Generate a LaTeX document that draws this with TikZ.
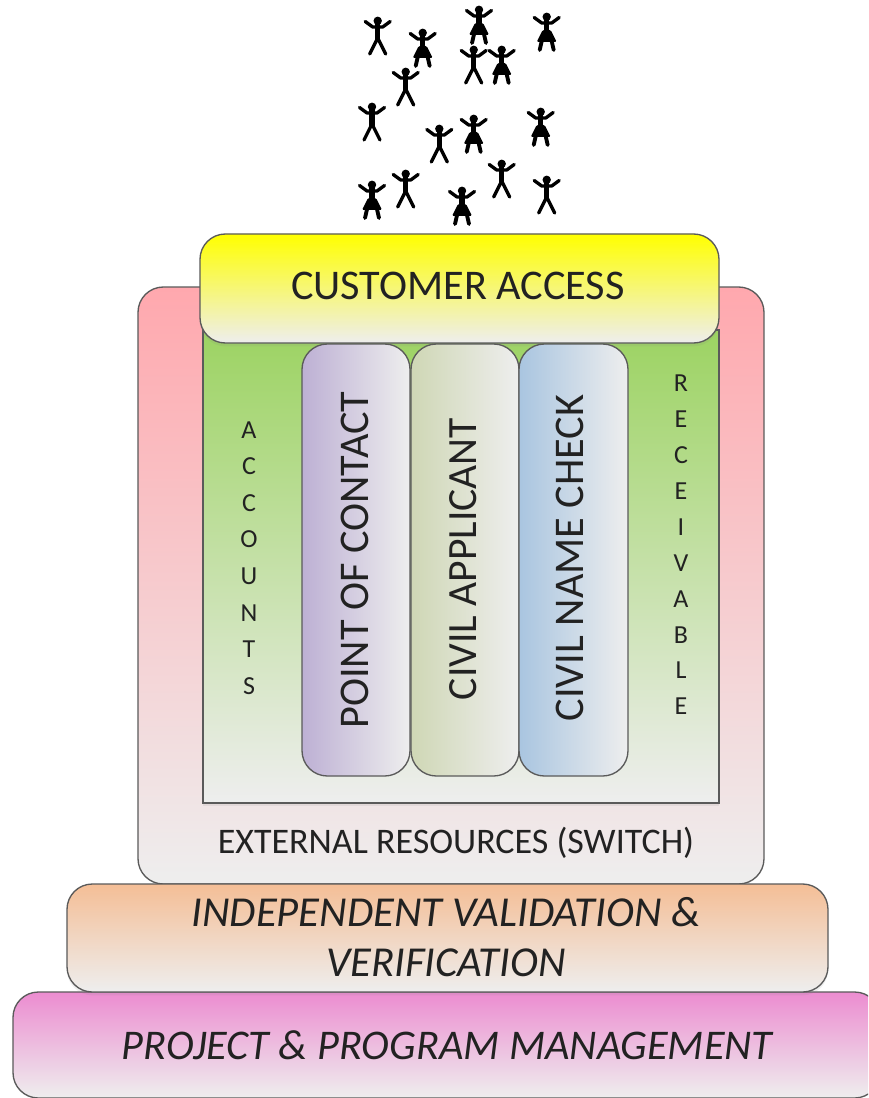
\documentclass[tikz,border=0pt]{standalone}
\usepackage{fontspec}
\usetikzlibrary{shadows}
\setmainfont{Carlito}
\definecolor{edgegray}{HTML}{5A5A5A}
\definecolor{inkc}{HTML}{222222}
\definecolor{endgray}{HTML}{EEEEEE}
\definecolor{pinkc}{HTML}{FFA8AE}
\definecolor{greenc}{HTML}{9CD362}
\definecolor{purplec}{HTML}{BDB0D4}
\definecolor{olivec}{HTML}{CFD7B5}
\definecolor{bluec}{HTML}{A9C5E0}
\definecolor{orangec}{HTML}{F4BE96}
\definecolor{magentac}{HTML}{EC8CD0}
\tikzset{
  softshadow/.style={drop shadow={opacity=.12,shadow xshift=0pt,shadow yshift=-2.5pt}},
  box/.style={draw=edgegray,line width=1pt,rounded corners=19pt,anchor=center,inner sep=0pt},
  lbl/.style={text=inkc,inner sep=0pt,align=center},
  man/.pic={
    \fill[black] (0,3.8) circle[radius=4.2];
    \draw[black,line width=2.5pt,line cap=round,line join=round] (-12.5,4.5) -- (-5,10) -- (5,10) -- (12.5,4.5);
    \draw[black,line width=3.8pt] (0,6) -- (0,24);
    \draw[black,line width=2.5pt,line cap=round,line join=round] (-8,37) -- (0,21) -- (8,37);
  },
  woman/.pic={
    \fill[black] (0,3.8) circle[radius=4.2];
    \draw[black,line width=2.5pt,line cap=round,line join=round] (-12.5,4.5) -- (-5,10) -- (5,10) -- (12.5,4.5);
    \draw[black,line width=3.8pt] (0,6) -- (0,23);
    \fill[black,rounded corners=1pt] (-4,17) -- (4,17) -- (10,29) -- (-10,29) -- cycle;
    \draw[black,line width=2.9pt,line cap=round] (-4.5,26) -- (-7,37) (4.5,26) -- (7,37);
  }
}
\begin{document}
\begin{tikzpicture}[x=0.75pt,y=-0.75pt]
\useasboundingbox (0,0) rectangle (868,1098);
\clip (0,0) rectangle (868,1098);
\fill[white] (0,0) rectangle (868,1098);
% people
\pic at (377.7,17) {man};
\pic at (422.7,29) {woman};
\pic at (479,6) {woman};
\pic at (546.7,13) {woman};
\pic at (473.7,46) {man};
\pic at (501.7,46) {woman};
\pic at (405.7,68) {man};
\pic at (372,103) {man};
\pic at (439.3,125) {man};
\pic at (473.7,115) {woman};
\pic at (540.7,108) {woman};
\pic at (501.7,160) {man};
\pic at (405.7,170) {man};
\pic at (372,181) {woman};
\pic at (462,187) {woman};
\pic at (546.7,176) {man};
% boxes
\node[box,minimum width=626pt*0.75,minimum height=597pt*0.75,top color=pinkc,bottom color=endgray] (outer) at (451,585.5) {};
\node[softshadow,draw=edgegray,line width=1pt,minimum width=516pt*0.75,minimum height=473pt*0.75,inner sep=0pt,top color=greenc,bottom color=endgray] (inner) at (461,566.5) {};
\node[box,softshadow,minimum width=519pt*0.75,minimum height=109pt*0.75,top color=yellow,bottom color=endgray] (cust) at (459.5,288.5) {};
\node[box,minimum width=108pt*0.75,minimum height=432pt*0.75,left color=purplec,right color=endgray] (pa) at (356,560) {};
\node[box,minimum width=108pt*0.75,minimum height=432pt*0.75,left color=olivec,right color=endgray] (pb) at (465,560) {};
\node[box,minimum width=109pt*0.75,minimum height=432pt*0.75,left color=bluec,right color=endgray] (pc) at (573.5,560) {};
\node[box,minimum width=867pt*0.75,minimum height=106pt*0.75,top color=magentac,bottom color=endgray] (pm) at (446.5,1045) {};
\node[box,softshadow,minimum width=761pt*0.75,minimum height=108pt*0.75,top color=orangec,bottom color=endgray] (ivv) at (447.5,938) {};
% labels
\node[lbl,font=\fontsize{31.7}{34}\selectfont] (custl) at (458,286) {CUSTOMER ACCESS};
\node[lbl,rotate=90,font=\fontsize{31.7}{34}\selectfont] (pal) at (355,560) {POINT OF CONTACT};
\node[lbl,rotate=90,font=\fontsize{31.2}{34}\selectfont] (pbl) at (463,559) {CIVIL APPLICANT};
\node[lbl,rotate=90,font=\fontsize{31.7}{34}\selectfont] (pcl) at (570,558) {CIVIL NAME CHECK};
\node[lbl,font=\fontsize{19.5}{27.4}\selectfont] (acc) at (249,558) {A\\C\\C\\O\\U\\N\\T\\S};
\node[lbl,font=\fontsize{19.5}{26.9}\selectfont] (rec) at (681,545) {R\\E\\C\\E\\I\\V\\A\\B\\L\\E};
\node[lbl,font=\fontsize{27}{30}\selectfont] (ext) at (456,843) {EXTERNAL RESOURCES (SWITCH)};
\node[lbl,font=\fontsize{32}{38}\selectfont\itshape] (ivvl) at (446,937) {INDEPENDENT VALIDATION \&\\VERIFICATION};
\node[lbl,font=\fontsize{31.7}{34}\selectfont\itshape] (pml) at (447,1045) {PROJECT \& PROGRAM MANAGEMENT};
\end{tikzpicture}
\end{document}
